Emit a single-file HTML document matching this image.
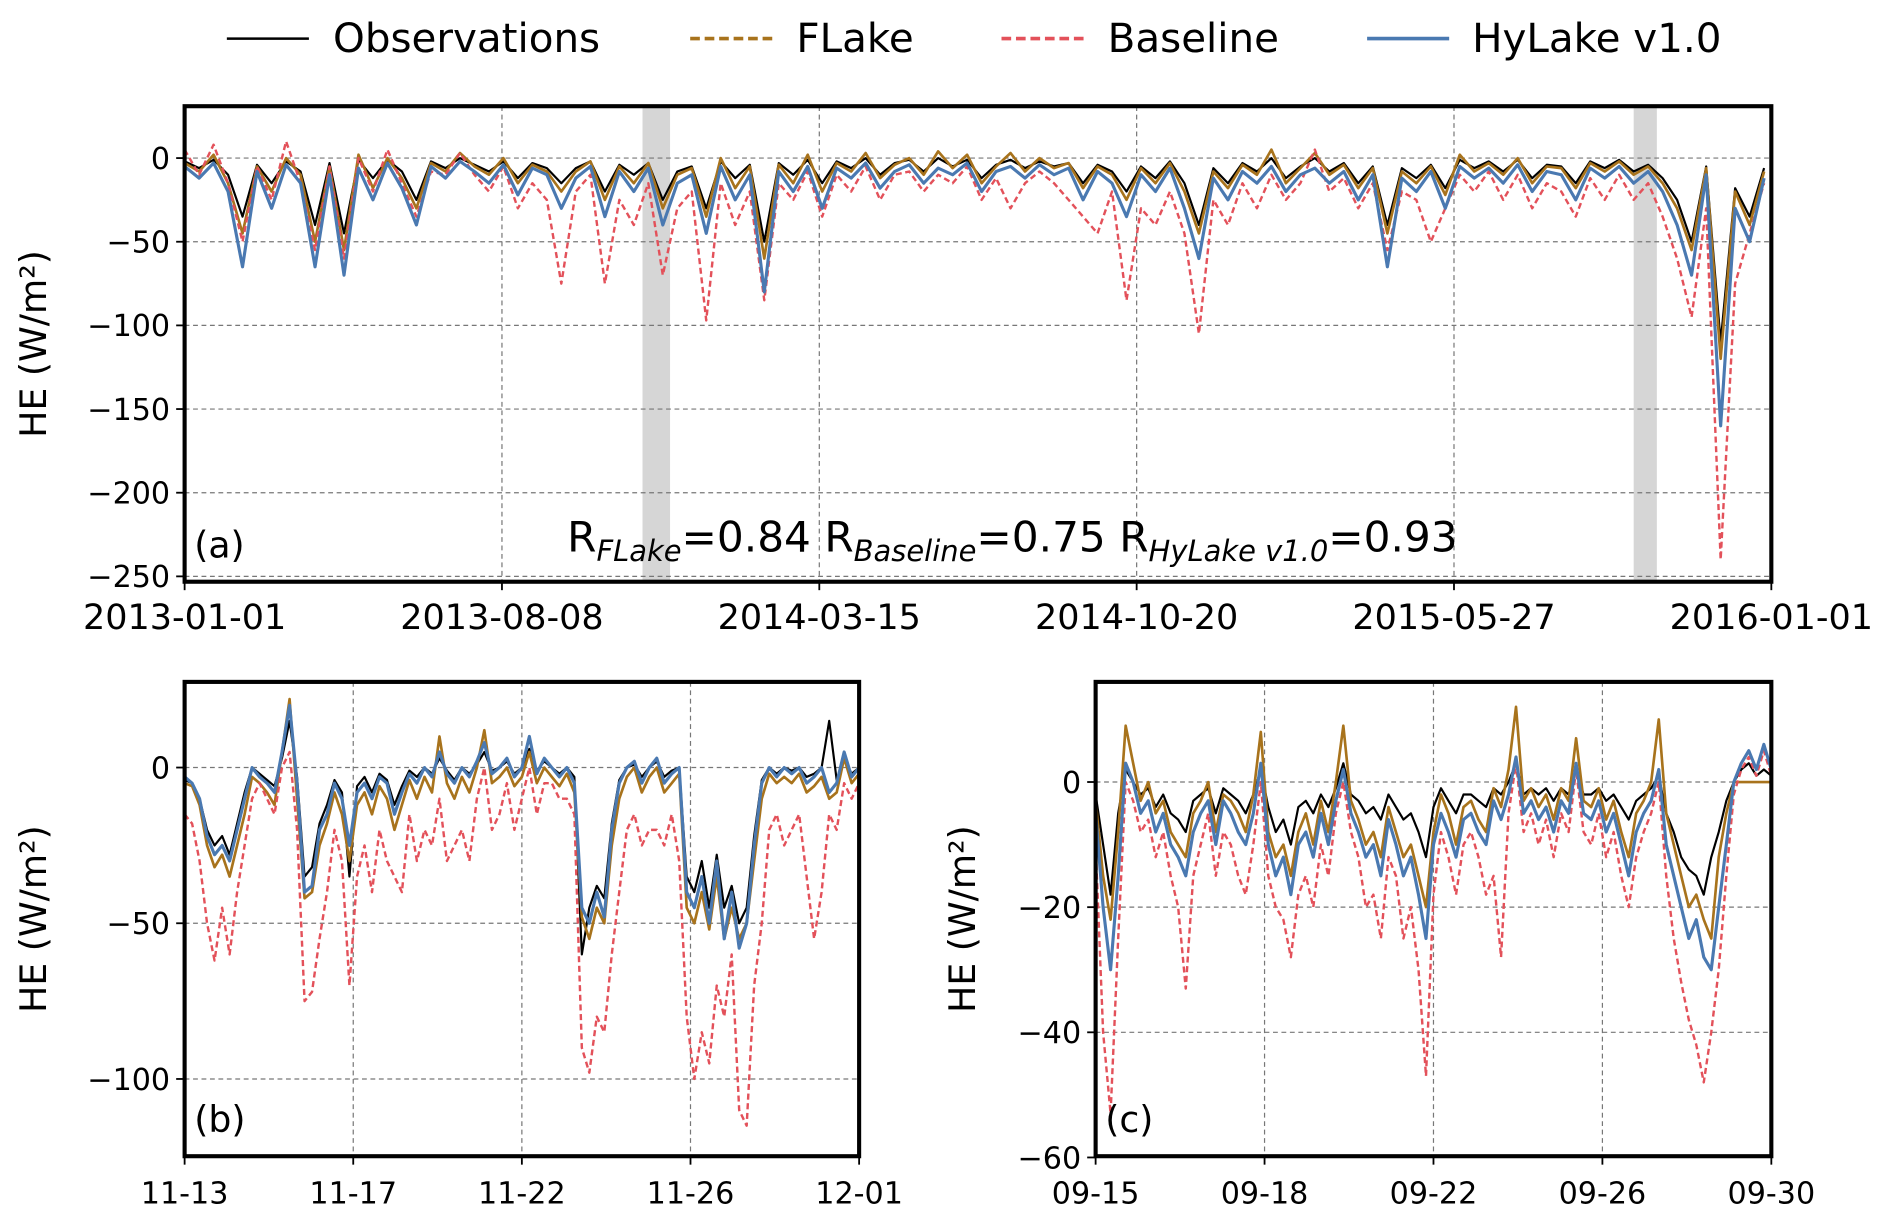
<!DOCTYPE html>
<html><head><meta charset="utf-8"><style>
html,body{margin:0;padding:0;background:#fff;}
svg{display:block;font-family:"DejaVu Sans","Liberation Sans",sans-serif;}
</style></head><body>
<svg id="fig" width="1892" height="1225" viewBox="0 0 1568 1015" preserveAspectRatio="none" xmlns="http://www.w3.org/2000/svg">
<g>
<g><line x1="188" y1="32" x2="256" y2="32" stroke="#000" stroke-width="2"/><text x="276" y="43" font-size="33.5">Observations</text></g>
<g><line x1="572" y1="32" x2="640" y2="32" stroke="#a8731c" stroke-width="3" stroke-dasharray="8,4"/><text x="660" y="43" font-size="33.5">FLake</text></g>
<g><line x1="830" y1="32" x2="898" y2="32" stroke="#e3515a" stroke-width="3" stroke-dasharray="8,4"/><text x="918" y="43" font-size="33.5">Baseline</text></g>
<g><line x1="1133" y1="32" x2="1201" y2="32" stroke="#4a79b1" stroke-width="3"/><text x="1220" y="43" font-size="33.5">HyLake v1.0</text></g>
</g>
</svg>
<script>
// ---- Panel (a) data: values every 10 days from 2013-01-01 ----
const aStepDays = 10;
const aTickLabels = ["2013-01-01","2013-08-08","2014-03-15","2014-10-20","2015-05-27","2016-01-01"];
const aTickDays = [0,219,438,657,876,1095];
const aYTicks = [0,-50,-100,-150,-200,-250];
const aBands = [[316,335],[1000,1016]];
const aHyLake = [-5,-12,-3,-20,-65,-8,-30,-4,-15,-65,-10,-70,-6,-25,-3,-18,-40,-5,-12,-2,-8,-15,-4,-22,-6,-10,-30,-12,-5,-35,-8,-20,-6,-40,-15,-10,-45,-5,-25,-10,-80,-8,-20,-5,-30,-6,-12,-3,-18,-8,-4,-15,-6,-10,-3,-20,-8,-5,-12,-4,-10,-6,-25,-8,-15,-35,-10,-20,-6,-30,-60,-12,-25,-8,-15,-5,-20,-10,-6,-15,-8,-25,-10,-65,-12,-20,-8,-30,-5,-12,-6,-15,-4,-20,-8,-10,-25,-6,-12,-5,-15,-8,-20,-40,-70,-10,-160,-30,-50,-12];
const aBaseline = [5,-10,8,-15,-50,-5,-25,10,-15,-55,-5,-60,0,-20,5,-15,-35,-8,-10,3,-10,-20,-5,-30,-15,-25,-75,-20,-10,-75,-25,-40,-15,-70,-30,-20,-97,-15,-40,-20,-85,-15,-25,-8,-35,-10,-20,-5,-25,-10,-8,-20,-10,-15,-5,-25,-12,-30,-15,-8,-15,-25,-35,-45,-20,-85,-30,-40,-20,-45,-105,-25,-40,-15,-30,-10,-25,-15,5,-20,-12,-30,-15,-55,-20,-25,-50,-30,-10,-20,-8,-25,-10,-30,-15,-20,-35,-12,-25,-10,-25,-15,-35,-60,-95,-30,-240,-75,-45,-15];
const aFLake = [-3,-8,2,-15,-45,-5,-20,0,-10,-50,-5,-55,2,-18,0,-12,-30,-3,-8,3,-5,-10,0,-15,-4,-8,-20,-8,-2,-25,-5,-15,-3,-30,-10,-6,-35,0,-18,-5,-60,-4,-15,2,-20,-3,-8,3,-12,-4,0,-10,4,-6,2,-15,-5,3,-8,0,-6,-3,-18,-5,-10,-25,-6,-15,-3,-20,-45,-8,-18,-4,-10,5,-15,-6,3,-10,-4,-18,-6,-45,-8,-15,-5,-22,2,-8,-3,-10,0,-15,-5,-6,-18,-3,-8,-2,-10,-5,-15,-30,-55,-6,-120,-20,-40,-8];
const aObs = [-2,-6,-1,-10,-35,-4,-15,-2,-8,-40,-3,-45,-1,-12,-1,-8,-25,-2,-6,0,-4,-8,-2,-12,-3,-6,-15,-6,-2,-20,-4,-10,-3,-25,-8,-5,-30,-2,-12,-4,-50,-3,-10,-1,-15,-2,-6,0,-10,-3,-1,-8,0,-5,-1,-12,-4,-1,-6,-2,-5,-3,-15,-4,-8,-20,-5,-12,-2,-15,-40,-6,-15,-3,-8,0,-12,-5,0,-8,-3,-15,-5,-40,-6,-12,-4,-18,-1,-6,-2,-8,-1,-12,-4,-5,-15,-2,-6,-1,-8,-4,-12,-25,-50,-5,-110,-18,-35,-6];

// ---- Panel (b) data: values every 0.2 day from 11-13 ----
const bStepDays = 0.2;
const bTickLabels = ["11-13","11-17","11-22","11-26","12-01"];
const bTickDays = [0,4.5,9,13.5,18];
const bYTicks = [0,-50,-100];
const bHyLake = [-3,-5,-10,-22,-28,-25,-30,-20,-10,0,-3,-5,-8,5,20,-5,-40,-38,-20,-15,-5,-10,-25,-8,-5,-10,-3,-5,-15,-8,-2,-5,0,-3,5,-2,-5,0,-3,2,8,-2,0,3,-3,0,10,-2,3,0,-3,0,-5,-45,-50,-40,-48,-20,-5,0,2,-5,0,3,-5,-2,0,-40,-45,-35,-50,-30,-55,-40,-58,-50,-25,-5,0,-3,0,-2,0,-5,-3,0,-8,-5,5,-3,0];
const bBaseline = [-15,-18,-30,-50,-62,-45,-60,-40,-25,-10,-5,-10,-15,0,5,-20,-75,-72,-55,-40,-20,-30,-70,-35,-25,-40,-20,-30,-35,-40,-15,-30,-20,-25,-10,-30,-25,-20,-30,-10,0,-20,-15,-5,-20,-10,0,-15,-5,-5,-10,-10,-15,-90,-98,-80,-85,-60,-40,-20,-15,-25,-20,-20,-25,-15,-30,-80,-100,-85,-95,-70,-80,-60,-110,-115,-70,-50,-20,-15,-25,-20,-15,-35,-55,-40,-15,-20,-5,-10,-5];
const bFLake = [-5,-6,-12,-25,-32,-28,-35,-25,-15,-3,-5,-8,-12,5,22,-10,-42,-40,-25,-18,-8,-15,-30,-12,-8,-15,-6,-10,-20,-12,-4,-10,-3,-8,10,-5,-10,-3,-8,0,12,-5,-3,0,-6,-3,5,-5,0,-3,-6,-2,-8,-48,-55,-45,-50,-25,-10,-3,0,-8,-3,0,-8,-5,-2,-45,-50,-40,-52,-35,-55,-45,-55,-50,-30,-10,-2,-5,-3,-5,-2,-8,-6,-3,-10,-8,3,-5,-2];
const bObs = [-4,-5,-10,-20,-25,-22,-28,-18,-8,0,-2,-4,-6,3,15,-3,-35,-32,-18,-12,-4,-8,-35,-6,-3,-8,-2,-4,-12,-6,-1,-3,0,-2,3,-1,-4,0,-2,1,5,-1,0,2,-2,0,6,-1,2,0,-2,0,-3,-60,-45,-38,-42,-18,-4,0,1,-3,0,2,-3,-1,0,-35,-40,-30,-45,-28,-45,-38,-50,-45,-22,-4,0,-2,0,-1,0,-3,-2,0,15,-4,3,-2,0];

// ---- Panel (c) data: values every 1/6 day from 09-15 ----
const cStepDays = 1/6;
const cTickLabels = ["09-15","09-18","09-22","09-26","09-30"];
const cTickDays = [0,3.75,7.5,11.25,15];
const cYTicks = [0,-20,-40,-60];
const cHyLake = [-5,-20,-30,-15,3,0,-5,-3,-8,-5,-10,-12,-15,-8,-5,-3,-10,-3,-5,-8,-10,-5,3,-10,-15,-12,-18,-10,-8,-12,-5,-10,-3,2,-5,-8,-12,-10,-15,-6,-10,-15,-12,-18,-25,-10,-5,-8,-12,-6,-5,-8,-10,-3,-6,-2,4,-5,-3,-6,-4,-8,-3,-5,3,-5,-6,-3,-8,-5,-10,-15,-8,-5,-3,2,-10,-15,-20,-25,-22,-28,-30,-20,-10,0,3,5,2,6,2];
const cBaseline = [-10,-40,-53,-25,0,-3,-8,-6,-12,-8,-15,-20,-33,-15,-10,-5,-15,-8,-10,-15,-18,-10,0,-15,-20,-22,-28,-18,-15,-20,-10,-15,-5,0,-8,-12,-20,-18,-25,-12,-15,-25,-20,-30,-47,-18,-8,-12,-18,-10,-8,-12,-18,-15,-28,-5,3,-8,-5,-10,-6,-12,-5,-8,2,-8,-10,-5,-12,-8,-15,-20,-12,-8,-5,0,-15,-25,-32,-38,-42,-48,-40,-30,-15,-2,2,4,1,5,1];
const cFLake = [-3,-15,-22,-8,9,3,-3,0,-5,-3,-8,-10,-12,-5,-3,0,-8,-2,-3,-5,-8,-2,8,-8,-12,-10,-15,-8,-5,-10,-3,-8,0,9,-3,-6,-10,-8,-12,-4,-8,-12,-10,-15,-20,-8,-2,-5,-10,-4,-3,-6,-8,-1,-4,2,12,-3,-1,-4,-2,-6,-1,-3,7,-3,-4,-1,-6,-3,-8,-12,-5,-3,0,10,-5,-10,-15,-20,-18,-22,-25,-12,-5,0,0,0,0,0,0];
const cObs = [-2,-10,-18,-5,2,0,-2,-1,-4,-2,-5,-6,-8,-3,-2,-1,-5,-1,-2,-3,-5,-2,2,-4,-8,-6,-10,-4,-3,-5,-2,-4,-1,3,-2,-3,-5,-4,-6,-2,-4,-6,-5,-8,-12,-4,-1,-3,-5,-2,-2,-3,-4,-1,-2,0,3,-2,-1,-2,-1,-3,-1,-2,2,-2,-2,-1,-3,-2,-4,-6,-3,-2,-1,1,-5,-8,-12,-14,-15,-18,-12,-8,-3,0,2,3,1,2,1];

const NS = "http://www.w3.org/2000/svg";
const svg = document.getElementById('fig');
function mk(tag, attrs, parent){
  const e = document.createElementNS(NS, tag);
  for (const k in attrs) e.setAttribute(k, attrs[k]);
  (parent||svg).appendChild(e);
  return e;
}
const COLORS = {obs:"#000000", flake:"#a8731c", base:"#e3515a", hyl:"#4a79b1"};

function panel(p){
  const g = mk('g', {});
  
  
  const sx = d => p.x0 + (d - p.xmin) / (p.xmax - p.xmin) * (p.x1 - p.x0);
  const sy = v => p.y1 - (v - p.ymin) / (p.ymax - p.ymin) * (p.y1 - p.y0);
  const clipId = p.name + '-clip';
  const cp = mk('clipPath', {id: clipId}, g);
  mk('rect', {x:p.x0, y:p.y0, width:p.x1-p.x0, height:p.y1-p.y0}, cp);
  (p.bands||[]).forEach(b => {
    const r = mk('rect', {x:sx(b[0]), y:p.y0, width:sx(b[1])-sx(b[0]), height:p.y1-p.y0, fill:"#d6d6d6"}, g);
    
    
  });
  p.xt.forEach((d,i) => {
    const l = mk('line', {x1:sx(d), x2:sx(d), y1:p.y0, y2:p.y1, stroke:"#777", 'stroke-width':1, 'stroke-dasharray':"4,3"}, g);
    
    
    mk('line', {x1:sx(d), x2:sx(d), y1:p.y1, y2:p.y1+7, stroke:"#000", 'stroke-width':1.5}, g);
    const t = mk('text', {x:sx(d), y:p.y1+39, 'font-size':p.xfs, 'text-anchor':'middle'}, g);
    t.textContent = p.xl[i];
    
    
  });
  p.yt.forEach(v => {
    const l = mk('line', {x1:p.x0, x2:p.x1, y1:sy(v), y2:sy(v), stroke:"#777", 'stroke-width':1, 'stroke-dasharray':"4,3"}, g);
    
    
    mk('line', {x1:p.x0-7, x2:p.x0, y1:sy(v), y2:sy(v), stroke:"#000", 'stroke-width':1.5}, g);
    const t = mk('text', {x:p.x0-12, y:sy(v)+9, 'font-size':25, 'text-anchor':'end'}, g);
    t.textContent = v < 0 ? '\u2212' + Math.abs(v) : String(v);
    
    
  });
  const sg = mk('g', {'clip-path':'url(#'+clipId+')'}, g);
  const series = [
    ['obs', p.obs, "none", 1.8, 'observations-line'],
    ['flake', p.flake, "none", 2.2, 'flake-line'],
    ['base', p.base, "5,3", 2, 'baseline-line'],
    ['hyl', p.hyl, "none", 2.6, 'hylake-line']
  ];
  series.forEach(s => {
    const pts = s[1].map((v,i) => sx(i*p.step).toFixed(1) + ',' + sy(v).toFixed(1)).join(' ');
    const attrs = {points:pts, fill:'none', stroke:COLORS[s[0]], 'stroke-width':s[3], 'stroke-linejoin':'round'};
    if (s[2] !== "none") attrs['stroke-dasharray'] = s[2];
    const pl = mk('polyline', attrs, sg);
    
    
  });
  const fr = mk('rect', {x:p.x0, y:p.y0, width:p.x1-p.x0, height:p.y1-p.y0, fill:'none', stroke:'#000', 'stroke-width':3.4}, g);
  
  
  const yl = mk('text', {x:0, y:0, 'font-size':30, 'text-anchor':'middle', transform:'translate('+p.ylx+','+((p.y0+p.y1)/2)+') rotate(-90)'}, g);
  yl.textContent = 'HE (W/m\u00B2)';
  
  
  const pl = mk('text', {x:p.x0+8, y:p.y1-20, 'font-size':30}, g);
  pl.textContent = p.label;
  
  
  return {g, sx, sy};
}

const pa = panel({name:'panel-a', x0:153, x1:1468, y0:88, y1:482, xmin:0, xmax:1095, ymin:-253.2, ymax:31,
  xt:aTickDays, xl:aTickLabels, yt:aYTicks, step:aStepDays, bands:aBands, xfs:29,
  obs:aObs, flake:aFLake, base:aBaseline, hyl:aHyLake, ylx:38, label:'(a)'});
const rt = mk('text', {x:470, y:457, 'font-size':35}, pa.g);


rt.innerHTML = 'R<tspan font-size="24" font-style="italic" dy="8">FLake</tspan><tspan dy="-8">=0.84 R</tspan><tspan font-size="24" font-style="italic" dy="8">Baseline</tspan><tspan dy="-8">=0.75 R</tspan><tspan font-size="24" font-style="italic" dy="8">HyLake v1.0</tspan><tspan dy="-8">=0.93</tspan>';

panel({name:'panel-b', x0:153, x1:712, y0:565, y1:958, xmin:0, xmax:18, ymin:-124.8, ymax:27.5,
  xt:bTickDays, xl:bTickLabels, yt:bYTicks, step:bStepDays, xfs:25,
  obs:bObs, flake:bFLake, base:bBaseline, hyl:bHyLake, ylx:38, label:'(b)'});
panel({name:'panel-c', x0:908, x1:1468, y0:565, y1:958, xmin:0, xmax:15, ymin:-59.8, ymax:16,
  xt:cTickDays, xl:cTickLabels, yt:cYTicks, step:cStepDays, xfs:25,
  obs:cObs, flake:cFLake, base:cBaseline, hyl:cHyLake, ylx:808, label:'(c)'});
</script>
</body></html>
